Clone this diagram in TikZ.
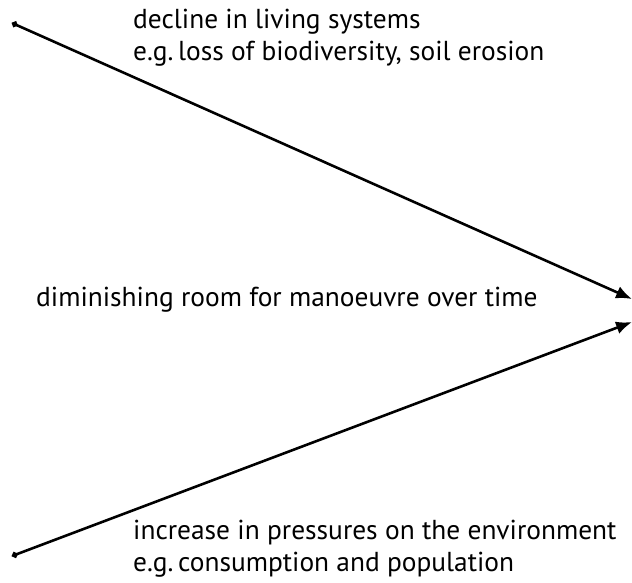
\documentclass[tikz,border=0pt]{standalone}
\usepackage{fontspec}
\setmainfont{PT Sans}
\usetikzlibrary{arrows.meta}
\tikzset{
	lbl/.style={anchor=west,inner sep=0pt,align=left,font=\fontsize{27.5}{32}\selectfont},
	trend/.style={line width=2.6pt,{Circle[length=6pt]}-{Latex[length=16pt,width=13pt]}}
}
\begin{document}
\begin{tikzpicture}[x=1bp,y=-1bp]
	\useasboundingbox (0,0) rectangle (632,583);
	\path
	(12,23)   coordinate (t0)
	(632,299) coordinate (t1)
	(12,556)  coordinate (b0)
	(632,322) coordinate (b1)
	(133,38)  node[lbl] (dec) {decline in living systems\\e.g.\,loss of biodiversity, soil erosion}
	(36,300)  node[lbl] (room) {diminishing room for manoeuvre over time}
	(133,549) node[lbl] (inc) {increase in pressures on the environment\\e.g.\,consumption and population};
	\draw[trend] (t0)--(t1);
	\draw[trend] (b0)--(b1);
\end{tikzpicture}
\end{document}
